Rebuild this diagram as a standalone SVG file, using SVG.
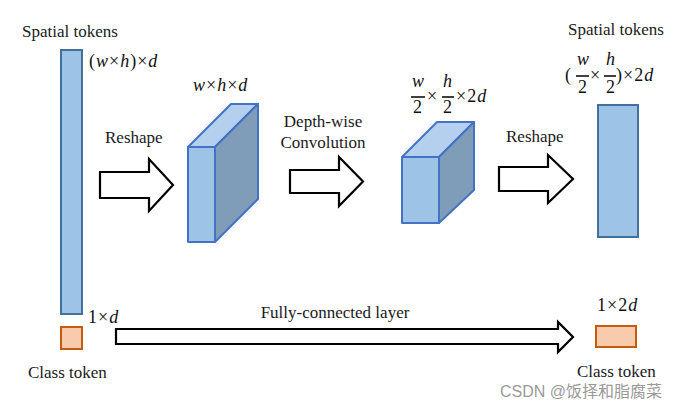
<svg xmlns="http://www.w3.org/2000/svg" width="685" height="408" viewBox="0 0 685 408">
<style>
.lbl{font-family:"Liberation Serif","Times New Roman",serif;font-size:17px;fill:#1a1a1a}
.math{font-family:"Liberation Serif","DejaVu Serif",serif;font-size:18px;fill:#111;letter-spacing:1px}
.it{font-style:italic}
.bar{fill:#9DC3E6;stroke:#41719C;stroke-width:2}
.cls{fill:#F8CBAD;stroke:#C55A11;stroke-width:2}
.front{fill:#9DC3E6;stroke:#4472C4;stroke-width:2;stroke-linejoin:round}
.top{fill:#B4D0EE;stroke:#4472C4;stroke-width:2;stroke-linejoin:round}
.side{fill:#7F9CB8;stroke:#4472C4;stroke-width:2;stroke-linejoin:round}
.arrow{fill:#fff;stroke:#000;stroke-width:2.2;stroke-linejoin:miter}
.fb{stroke:#111;stroke-width:1.6}
.wm{font-family:"Liberation Sans","Noto Sans CJK SC",sans-serif;font-size:16px;fill:#9a9a9a}
</style>
<rect width="685" height="408" fill="#fff"/>

<g id="spatial-in">
<rect class="bar" x="61" y="50" width="21" height="264"/>
<text class="lbl" x="22" y="37">Spatial tokens</text>
<text class="math" x="89" y="67">(<tspan class="it">w</tspan>×<tspan class="it">h</tspan>)×<tspan class="it">d</tspan></text>
</g>

<g id="class-in">
<rect class="cls" x="61" y="327" width="21" height="22"/>
<text class="math" x="88" y="323">1×<tspan class="it">d</tspan></text>
<text class="lbl" x="28" y="378">Class token</text>
</g>

<g id="cube1">
<polygon class="top" points="188,147 215,147 258,104 231,104"/>
<polygon class="side" points="215,147 258,104 258,199 215,242"/>
<rect class="front" x="188" y="147" width="27" height="95"/>
<text class="math" x="193" y="91"><tspan class="it">w</tspan>×<tspan class="it">h</tspan>×<tspan class="it">d</tspan></text>
</g>

<g id="cube2">
<polygon class="top" points="402,157 439,157 474,122 437,122"/>
<polygon class="side" points="439,157 474,122 474,190 439,223"/>
<rect class="front" x="402" y="157" width="37" height="66"/>
<text class="math it" x="412" y="87">w</text>
<line class="fb" x1="411" y1="97" x2="425" y2="97"/>
<text class="math" x="413" y="113">2</text>
<text class="math" x="427" y="102">×</text>
<text class="math it" x="443" y="87">h</text>
<line class="fb" x1="442" y1="97" x2="454" y2="97"/>
<text class="math" x="443" y="113">2</text>
<text class="math" x="456" y="102">×2<tspan class="it">d</tspan></text>
</g>

<g id="spatial-out">
<rect class="bar" x="598" y="105" width="40" height="132"/>
<text class="lbl" x="568" y="35">Spatial tokens</text>
<text class="math" x="565" y="81">(</text>
<text class="math it" x="577" y="65">w</text>
<line class="fb" x1="576" y1="76" x2="589" y2="76"/>
<text class="math" x="578" y="93">2</text>
<text class="math" x="590" y="81">×</text>
<text class="math it" x="606" y="65">h</text>
<line class="fb" x1="604" y1="76" x2="616" y2="76"/>
<text class="math" x="606" y="93">2</text>
<text class="math" x="616" y="81">)×2<tspan class="it">d</tspan></text>
</g>

<g id="class-out">
<rect class="cls" x="596" y="326" width="40" height="21"/>
<text class="math" x="597" y="311">1×2<tspan class="it">d</tspan></text>
<text class="lbl" x="577" y="377">Class token</text>
</g>

<g id="connectors">
<polygon class="arrow" points="100,172 149,172 149,159 173,185 149,211 149,198 100,198"/>
<text class="lbl" x="105" y="143">Reshape</text>
<polygon class="arrow" points="290,170 339,170 339,157 363,181.5 339,206 339,193 290,193"/>
<text class="lbl" x="323" y="127" text-anchor="middle">Depth-wise</text>
<text class="lbl" x="323" y="148" text-anchor="middle">Convolution</text>
<polygon class="arrow" points="499,167 548,167 548,155 573,179 548,203 548,191 499,191"/>
<text class="lbl" x="506" y="142">Reshape</text>
<polygon class="arrow" points="116,329 558,329 558,322 573,337 558,352 558,344 116,344"/>
<text class="lbl" x="335" y="318" text-anchor="middle">Fully-connected layer</text>
</g>

<text class="wm" x="500" y="397">CSDN @饭择和脂腐菜</text>
</svg>
